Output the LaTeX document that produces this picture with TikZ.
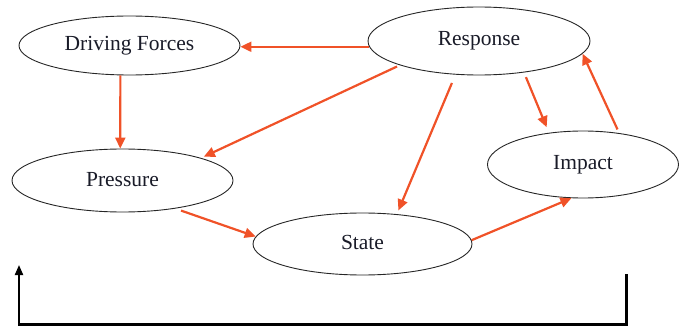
\documentclass[tikz,border=0pt]{standalone}
\usepackage{fontspec}
\setmainfont{Liberation Serif}
\usetikzlibrary{shapes.geometric,arrows.meta}
\definecolor{arr}{RGB}{240,82,40}
\definecolor{txt}{RGB}{25,27,40}
\begin{document}
\begin{tikzpicture}[x=1pt,y=-1pt,
  ell/.style={ellipse,draw=black!85,line width=0.9pt,inner sep=0pt,text=txt,
    font=\fontsize{21.5}{24}\selectfont},
  conn/.style={draw=arr,line width=2.2pt,-{Triangle[length=11pt,width=10pt]}},
  loopline/.style={draw=black,line width=3pt}]
\useasboundingbox (0,0) rectangle (680,329);
\node[ell,minimum width=221pt,minimum height=59pt] (df) at (129.5,45.5) {Driving Forces};
\node[ell,minimum width=222pt,minimum height=68pt] (resp) at (479,41) {\raisebox{3pt}{Response}};
\node[ell,minimum width=191pt,minimum height=67pt] (imp) at (583,164.5) {\raisebox{4pt}{Impact}};
\node[ell,minimum width=221pt,minimum height=63pt] (pr) at (122.5,180.5) {\raisebox{2pt}{Pressure}};
\node[ell,minimum width=219pt,minimum height=62pt] (st) at (362.5,244) {\raisebox{3pt}{State}};
% connectors
\draw[conn] (resp.183) -- (resp.183 -| df.east);
\draw[conn] (df.253) -- (pr.94);
\draw[conn,shorten <=3pt,shorten >=3pt] (resp.197) -- (pr.16);
\draw[conn,shorten <=9pt,shorten >=4pt] (resp.235.7) -- (st.41.6);
\draw[conn,shorten <=5pt,shorten >=6pt] (resp.325.8) -- (imp.137.4);
\draw[conn,shorten <=4pt] (imp.41.2) -- (resp.353.4);
\draw[conn,shorten <=6pt] (pr.332.3) -- (st.176.9);
\draw[conn] (st.2) -- (imp.251);
% feedback loop
\coordinate (rt) at (626,274);
\coordinate (rb) at (626,324);
\coordinate (lb) at (19,324);
\coordinate (lt) at (19,265);
\draw[loopline] (rt) -- (rb) -- (lb);
\draw[draw=black,line width=2pt,-{Triangle[length=10pt,width=8pt]}] ([yshift=-1.5pt]lb) -- (lt);
\end{tikzpicture}
\end{document}
